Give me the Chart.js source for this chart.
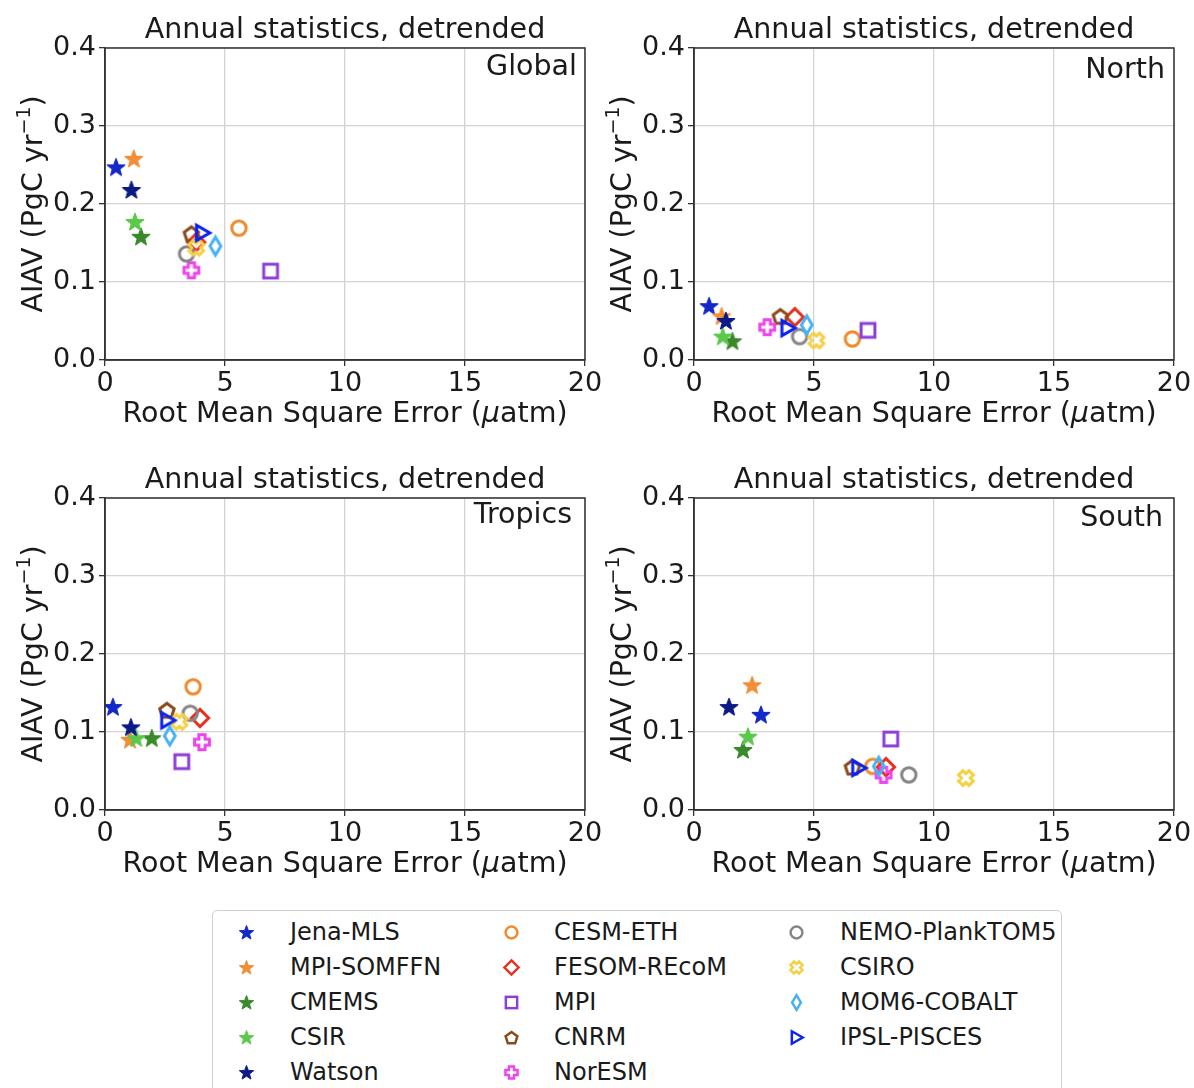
<!DOCTYPE html>
<html>
<head>
<meta charset="utf-8">
<script src="https://cdn.jsdelivr.net/npm/chart.js@4.4.1/dist/chart.umd.min.js"></script>
<style>
  html, body { margin: 0; padding: 0; background: #fff; }
  #fig { position: relative; width: 1194px; height: 1088px; overflow: hidden; font-family: "DejaVu Sans", sans-serif; }
  .panel { position: absolute; }
  #legend { position: absolute; left: 212px; top: 910px; width: 850px; height: 200px;
            border: 1.5px solid #cfcfcf; border-radius: 5px; box-sizing: border-box; }
  .lg-mark { position: absolute; }
  .lg-text { position: absolute; font-size: 24px; color: #1a1a1a; line-height: 24px; white-space: nowrap; }
</style>
</head>
<body>
<div id="fig">
  <canvas id="c0" class="panel" width="620" height="450" style="left:0;top:0"></canvas>
  <canvas id="c1" class="panel" width="597" height="450" style="left:597px;top:0"></canvas>
  <canvas id="c2" class="panel" width="620" height="450" style="left:0;top:450px"></canvas>
  <canvas id="c3" class="panel" width="597" height="450" style="left:597px;top:450px"></canvas>
  <div id="legend"></div>
</div>
<script>
// ---- data -------------------------------------------------------------
const models = ['Jena-MLS', 'MPI-SOMFFN', 'CMEMS', 'CSIR', 'Watson',
                'CESM-ETH', 'FESOM-REcoM', 'MPI', 'CNRM', 'NorESM',
                'NEMO-PlankTOM5', 'CSIRO', 'MOM6-COBALT', 'IPSL-PISCES'];
const regions = ['Global', 'North', 'Tropics', 'South'];
const xTicks = [0, 5, 10, 15, 20];
const yTicks = [0.0, 0.1, 0.2, 0.3, 0.4];

// RMSE (µatm) and AIAV (PgC/yr), one entry per model in the order above
const rmseGlobal  = [0.46, 1.20, 1.50, 1.25, 1.10, 5.58, 3.80, 6.90, 3.60, 3.60, 3.40, 3.80, 4.60, 4.05];
const aiavGlobal  = [0.247, 0.258, 0.158, 0.177, 0.218, 0.169, 0.151, 0.114, 0.162, 0.115, 0.136, 0.144, 0.146, 0.163];
const rmseNorth   = [0.63, 1.15, 1.60, 1.20, 1.33, 6.60, 4.20, 7.25, 3.60, 3.05, 4.40, 5.10, 4.70, 3.90];
const aiavNorth   = [0.069, 0.056, 0.024, 0.030, 0.050, 0.027, 0.055, 0.038, 0.056, 0.042, 0.030, 0.025, 0.045, 0.041];
const rmseTropics = [0.33, 1.04, 1.95, 1.30, 1.08, 3.67, 3.96, 3.20, 2.58, 4.04, 3.55, 3.10, 2.70, 2.60];
const aiavTropics = [0.132, 0.090, 0.092, 0.092, 0.106, 0.158, 0.118, 0.062, 0.128, 0.087, 0.124, 0.113, 0.095, 0.115];
const rmseSouth   = [2.79, 2.42, 2.04, 2.25, 1.46, 7.45, 8.00, 8.20, 6.60, 7.90, 8.95, 11.33, 7.70, 6.85];
const aiavSouth   = [0.122, 0.160, 0.077, 0.094, 0.132, 0.056, 0.055, 0.091, 0.055, 0.045, 0.045, 0.041, 0.056, 0.054];

const rmse = [rmseGlobal, rmseNorth, rmseTropics, rmseSouth];
const aiav = [aiavGlobal, aiavNorth, aiavTropics, aiavSouth];

// ---- styling ----------------------------------------------------------
const colors = ['#1428c8', '#f28e35', '#3a8a2c', '#5cc84c', '#0c1a86',
                '#f08a2c', '#e8301e', '#8c3ed8', '#8a4a1a', '#ee44ee',
                '#858585', '#f6d044', '#46b2f4', '#0a22f0'];
const shapes = ['star', 'star', 'star', 'star', 'star',
                'circle', 'diamond', 'square', 'pentagon', 'plus',
                'circle', 'cross', 'thindiamond', 'triright'];

const FONT = '"DejaVu Sans", sans-serif';
const TXT = 28.5;
const title = 'Annual statistics, detrended';
// region label placement (baseline offset from top, inset from right)
const labelPos = [[27, 8], [30, 9], [25, 13], [28, 11]];
// plot-area left / right edge in each canvas
const canvasW = [620, 597, 620, 597];
const areaLeft = [105, 97, 105, 97];
const areaRight = [585, 577, 585, 577];

// ---- marker images ----------------------------------------------------
function polyPath(ctx, pts) {
  ctx.beginPath();
  pts.forEach((p, i) => i ? ctx.lineTo(p[0], p[1]) : ctx.moveTo(p[0], p[1]));
  ctx.closePath();
}
function makeMarker(shape, color, k) {
  const S = Math.ceil(30 * k), c = S / 2;
  const cv = document.createElement('canvas');
  cv.width = S; cv.height = S;
  const ctx = cv.getContext('2d');
  ctx.strokeStyle = color; ctx.fillStyle = color;
  ctx.lineJoin = 'miter';
  ctx.lineWidth = 3.0 * k;
  if (shape === 'star') {
    const R = 9.2 * k, r = R * 0.42, pts = [];
    for (let i = 0; i < 10; i++) {
      const a = -Math.PI / 2 + i * Math.PI / 5, rr = i % 2 ? r : R;
      pts.push([c + rr * Math.cos(a), c + 0.5 + rr * Math.sin(a)]);
    }
    polyPath(ctx, pts); ctx.lineWidth = 1.2 * k; ctx.lineJoin = 'round';
    ctx.fill(); ctx.stroke();
  } else if (shape === 'circle') {
    ctx.beginPath(); ctx.arc(c, c, 7.2 * k, 0, Math.PI * 2); ctx.stroke();
  } else if (shape === 'diamond') {
    const d = 8.6 * k;
    polyPath(ctx, [[c, c - d], [c + d, c], [c, c + d], [c - d, c]]); ctx.stroke();
  } else if (shape === 'thindiamond') {
    const h = 9.0 * k, w = 5.4 * k;
    polyPath(ctx, [[c, c - h], [c + w, c], [c, c + h], [c - w, c]]); ctx.stroke();
  } else if (shape === 'square') {
    const h = 6.9 * k;
    ctx.strokeRect(c - h, c - h, 2 * h, 2 * h);
  } else if (shape === 'pentagon') {
    const R = 7.6 * k, pts = [];
    for (let i = 0; i < 5; i++) {
      const a = -Math.PI / 2 + i * 2 * Math.PI / 5;
      pts.push([c + R * Math.cos(a), c + 0.8 * k + R * Math.sin(a)]);
    }
    polyPath(ctx, pts); ctx.stroke();
  } else if (shape === 'plus' || shape === 'cross') {
    const e = 7.4 * k, w = 3.1 * k;
    const base = [[-w, -e], [w, -e], [w, -w], [e, -w], [e, w], [w, w], [w, e], [-w, e], [-w, w], [-e, w], [-e, -w], [-w, -w]];
    const rot = shape === 'cross' ? Math.PI / 4 : 0;
    const pts = base.map(([x, y]) => [c + x * Math.cos(rot) - y * Math.sin(rot), c + x * Math.sin(rot) + y * Math.cos(rot)]);
    ctx.lineWidth = 3.0 * k;
    polyPath(ctx, pts); ctx.stroke();
  } else if (shape === 'triright') {
    const h = 7.6 * k;
    polyPath(ctx, [[c + h, c], [c - h * 0.75, c - h], [c - h * 0.75, c + h]]); ctx.stroke();
  }
  return cv;
}
const plotMarkers = models.map((m, i) => makeMarker(shapes[i], colors[i], 1));
const legendMarkers = models.map((m, i) => makeMarker(shapes[i], colors[i], 0.82));

// ---- text + frame plugin ---------------------------------------------
const decorations = {
  id: 'decorations',
  afterDraw(chart, args, opts) {
    const { ctx, chartArea: a } = chart;
    const f = TXT + 'px ' + FONT, fi = 'italic ' + f;
    ctx.save();
    // frame around the plot area
    ctx.strokeStyle = '#333'; ctx.lineWidth = 1.5;
    ctx.strokeRect(a.left, a.top, a.right - a.left, a.bottom - a.top);
    ctx.fillStyle = '#1a1a1a';
    // panel title
    ctx.font = f;
    ctx.textAlign = 'center'; ctx.textBaseline = 'alphabetic';
    ctx.fillText(title, (a.left + a.right) / 2, a.top - 10);
    // region name in the upper right corner
    const [dy, dx] = labelPos[opts.idx];
    ctx.textAlign = 'right';
    ctx.fillText(regions[opts.idx], a.right - dx, a.top + dy);
    // x axis title with italic mu
    const p1 = 'Root Mean Square Error (', p2 = '\u03bc', p3 = 'atm)';
    ctx.font = f; const w1 = ctx.measureText(p1).width, w3 = ctx.measureText(p3).width;
    ctx.font = fi; const w2 = ctx.measureText(p2).width;
    let x = (a.left + a.right) / 2 - (w1 + w2 + w3) / 2, y = a.bottom + 62;
    ctx.textAlign = 'left';
    ctx.font = f; ctx.fillText(p1, x, y); x += w1;
    ctx.font = fi; ctx.fillText(p2, x, y); x += w2;
    ctx.font = f; ctx.fillText(p3, x, y);
    // y axis title with superscript
    ctx.translate(a.left - 73, (a.top + a.bottom) / 2);
    ctx.rotate(-Math.PI / 2);
    const q1 = 'AIAV (PgC yr', q2 = '\u22121', q3 = ')';
    ctx.font = f; const v1 = ctx.measureText(q1).width, v3 = ctx.measureText(q3).width;
    ctx.font = '19px ' + FONT; const v2 = ctx.measureText(q2).width;
    let t = -(v1 + v2 + v3) / 2;
    ctx.font = f; ctx.fillText(q1, t, 10); t += v1;
    ctx.font = '19px ' + FONT; ctx.fillText(q2, t, -2); t += v2;
    ctx.font = f; ctx.fillText(q3, t, 10);
    ctx.restore();
  }
};

// ---- charts -----------------------------------------------------------
regions.forEach((reg, r) => {
  const datasets = models.map((m, i) => ({
    label: m,
    data: [{ x: rmse[r][i], y: aiav[r][i] }],
    pointStyle: plotMarkers[i],
    pointRadius: 9,
    order: models.length - i,
    backgroundColor: colors[i],
    borderColor: colors[i]
  }));
  new Chart(document.getElementById('c' + r), {
    type: 'scatter',
    data: { datasets },
    plugins: [decorations],
    options: {
      responsive: false,
      animation: false,
      events: [],
      layout: { padding: { left: 0, right: canvasW[r] - areaRight[r], top: 48, bottom: 0 } },
      plugins: {
        legend: { display: false },
        tooltip: { enabled: false },
        decorations: { idx: r }
      },
      scales: {
        x: {
          type: 'linear', min: xTicks[0], max: xTicks[xTicks.length - 1],
          afterBuildTicks: s => { s.ticks = xTicks.map(v => ({ value: v })); },
          afterFit: s => { s.height = 90; s.paddingLeft = 0; s.paddingRight = 0; },
          ticks: { font: { family: FONT, size: 27 }, color: '#1a1a1a', padding: 2, maxRotation: 0,
                   callback: v => String(v) },
          grid: { color: '#d4d4d4', lineWidth: 1.3, tickColor: '#333', tickLength: 6 },
          border: { color: '#333', width: 1.5 }
        },
        y: {
          type: 'linear', min: yTicks[0], max: yTicks[yTicks.length - 1],
          afterBuildTicks: s => { s.ticks = yTicks.map(v => ({ value: v })); },
          afterFit: s => { s.width = areaLeft[r]; s.paddingTop = 0; s.paddingBottom = 0; },
          ticks: { font: { family: FONT, size: 27 }, color: '#1a1a1a', padding: 3,
                   callback: v => v.toFixed(1) },
          grid: { color: '#d4d4d4', lineWidth: 1.3, tickColor: '#333', tickLength: 6 },
          border: { color: '#333', width: 1.5 }
        }
      }
    }
  });
});

// ---- legend (three columns, filled column by column) -------------------
const legend = document.getElementById('legend');
const colMark = [33, 298, 583], colText = [77, 341, 627], rowY = [21, 56, 91, 126, 161];
models.forEach((m, i) => {
  const col = Math.floor(i / 5), row = i % 5;
  const mk = legendMarkers[i];
  const cv = document.createElement('canvas');
  cv.width = mk.width; cv.height = mk.height; cv.className = 'lg-mark';
  cv.getContext('2d').drawImage(mk, 0, 0);
  cv.style.left = (colMark[col] - mk.width / 2) + 'px';
  cv.style.top = (rowY[row] - mk.height / 2) + 'px';
  legend.appendChild(cv);
  const tx = document.createElement('div');
  tx.className = 'lg-text'; tx.textContent = m;
  tx.style.left = colText[col] + 'px';
  tx.style.top = (rowY[row] - 12) + 'px';
  legend.appendChild(tx);
});
</script>
</body>
</html>
